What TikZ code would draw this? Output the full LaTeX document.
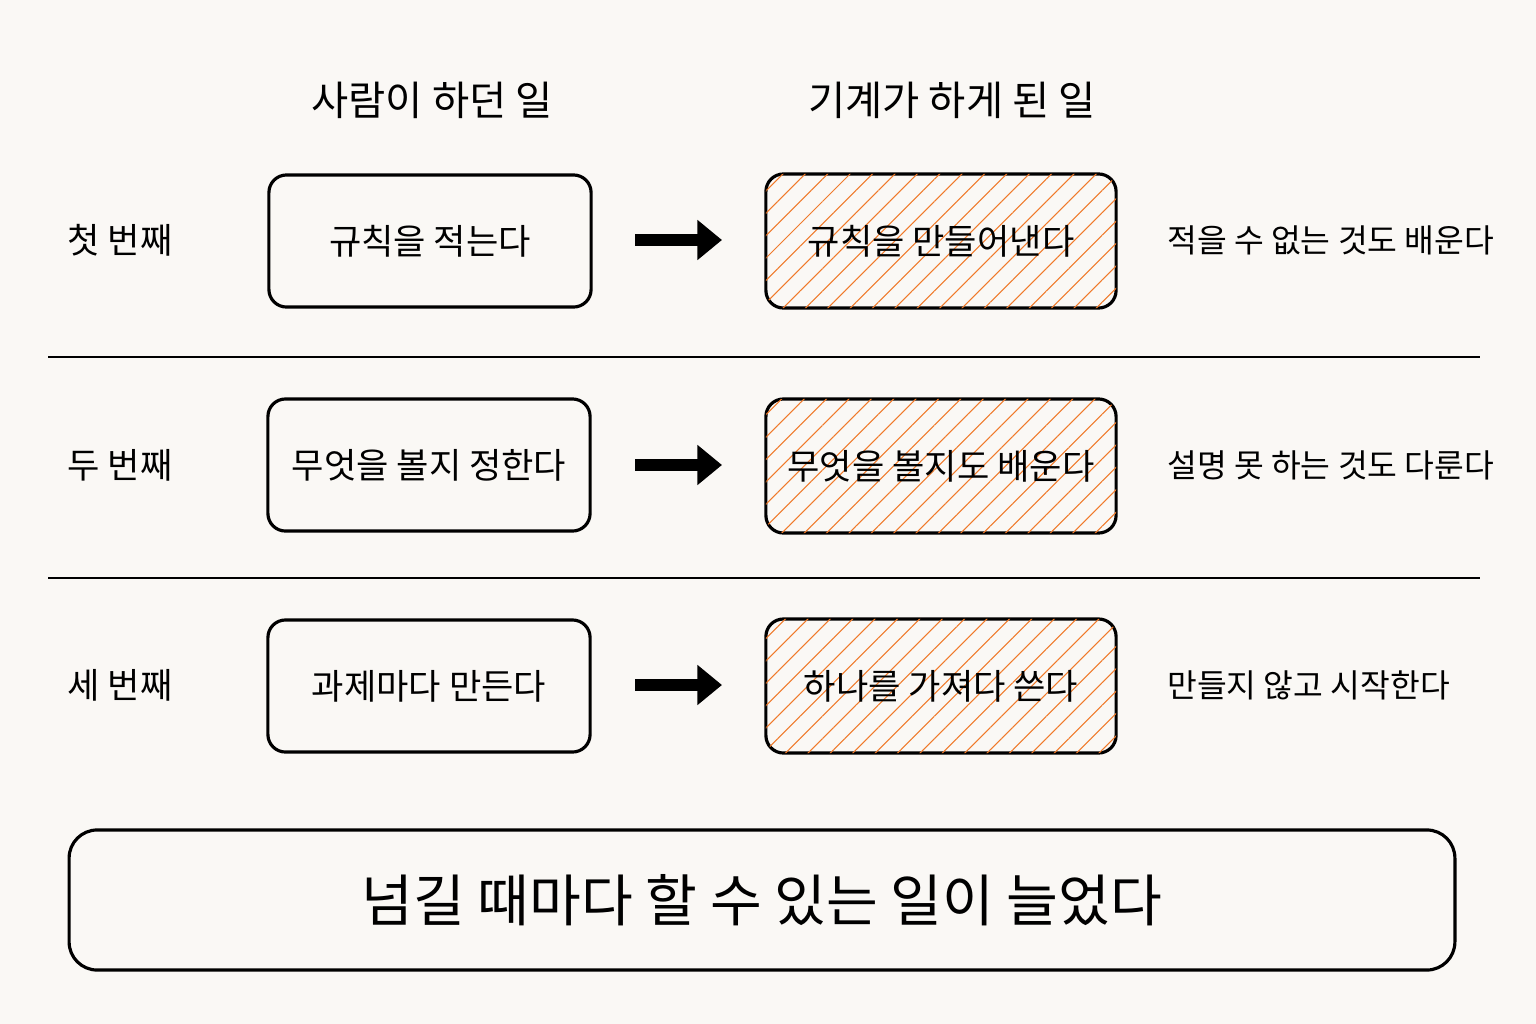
\documentclass[tikz,border=0pt]{standalone}
\usepackage{fontspec}
\setmainfont{Noto Sans CJK KR}
\usetikzlibrary{positioning,arrows.meta,patterns.meta}
\definecolor{paper}{HTML}{FAF8F5}
\definecolor{hatch}{HTML}{F07A2A}

\begin{document}
\begin{tikzpicture}[
    x=0.01cm, y=-0.01cm,
    every node/.style={font=\fontsize{10}{12}\selectfont},
    human/.style={
        rectangle,
        draw,
        line width=0.9pt,
        rounded corners=5pt,
        minimum width=3.22cm,
        minimum height=1.32cm,
        align=center
    },
    machine/.style={
        human,
        minimum width=3.5cm,
        minimum height=1.34cm,
        postaction={pattern={Lines[angle=45,distance=4.5pt,line width=0.3pt]}, pattern color=hatch}
    },
    handoff/.style={-{Triangle[length=7pt,width=11pt]}, line width=3.4pt},
    note/.style={anchor=west, font=\fontsize{9.2}{11}\selectfont},
    rowlabel/.style={anchor=center}
]

% Background and bounds
\fill[paper] (0,0) rectangle (1536,1024);
\useasboundingbox (0,0) rectangle (1536,1024);

% Column headers
\node[font=\fontsize{11.5}{14}\selectfont] (head-human) at (432,100) {사람이 하던 일};
\node[font=\fontsize{11.5}{14}\selectfont] (head-machine) at (952,100) {기계가 하게 된 일};

% First row
\node[rowlabel] (first) at (120,240) {첫 번째};
\node[human] (first-h) at (430,241) {규칙을 적는다};
\node[machine] (first-m) at (941,241) {규칙을 만들어낸다};
\node[note] (first-n) at (1155,240) {적을 수 없는 것도 배운다};
\coordinate (first-a) at (635,240);
\coordinate (first-b) at (722,240);
\draw[handoff] (first-a) -- (first-b);

% Second row
\node[rowlabel] (second) at (120,465) {두 번째};
\node[human] (second-h) at (429,465) {무엇을 볼지 정한다};
\node[machine] (second-m) at (941,466) {무엇을 볼지도 배운다};
\node[note] (second-n) at (1155,465) {설명 못 하는 것도 다룬다};
\coordinate (second-a) at (635,465);
\coordinate (second-b) at (722,465);
\draw[handoff] (second-a) -- (second-b);

% Third row
\node[rowlabel] (third) at (120,685) {세 번째};
\node[human] (third-h) at (429,686) {과제마다 만든다};
\node[machine] (third-m) at (941,686) {하나를 가져다 쓴다};
\node[note] (third-n) at (1155,685) {만들지 않고 시작한다};
\coordinate (third-a) at (635,685);
\coordinate (third-b) at (722,685);
\draw[handoff] (third-a) -- (third-b);

% Separators
\coordinate (sep1-l) at (48,357);
\coordinate (sep1-r) at (1480,357);
\coordinate (sep2-l) at (48,578);
\coordinate (sep2-r) at (1480,578);
\draw[line width=0.6pt] (sep1-l) -- (sep1-r);
\draw[line width=0.6pt] (sep2-l) -- (sep2-r);

% Summary
\node[human, minimum width=13.85cm, minimum height=1.4cm, rounded corners=8pt,
      font=\fontsize{16}{19}\selectfont] (summary) at (762,900) {넘길 때마다 할 수 있는 일이 늘었다};

\end{tikzpicture}
\end{document}
